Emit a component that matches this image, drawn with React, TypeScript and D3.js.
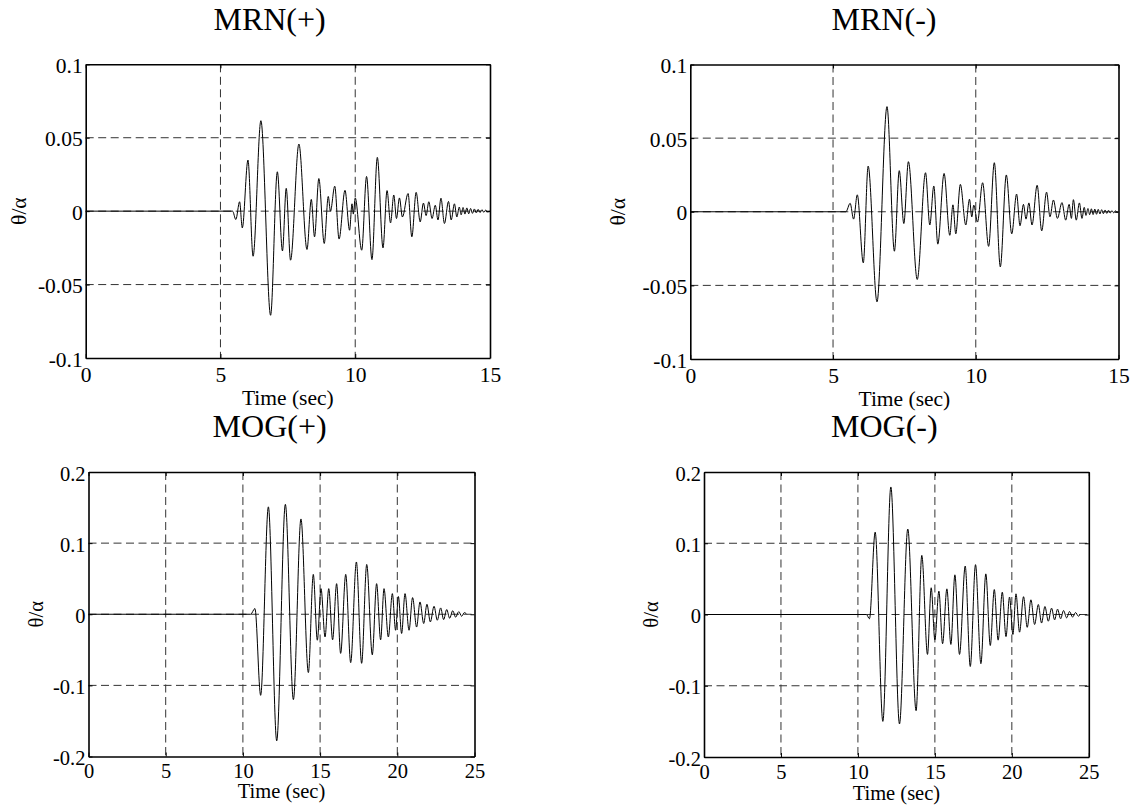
import React, { useRef, useEffect } from "react";
import * as d3 from "d3";

// axis ticks and their labels
const mrnXTicks = [0, 5, 10, 15];
const mogXTicks = [0, 5, 10, 15, 20, 25];
const mrnYTicks = [-0.1, -0.05, 0, 0.05, 0.1];
const mrnYLabels = ["-0.1", "-0.05", "0", "0.05", "0.1"];
const mogYTicks = [-0.2, -0.1, 0, 0.1, 0.2];
const mogYLabels = ["-0.2", "-0.1", "0", "0.1", "0.2"];

// [time (sec), theta/alpha] turning points
const mrnPlus = [
  [0, 0], [5.45, 0], [5.57, -0.0057], [5.71, 0.0064], [5.81, -0.0114], [6.02, 0.0348],
  [6.21, -0.0307], [6.5, 0.0616], [6.86, -0.0709], [7.11, 0.0268], [7.3, -0.0271],
  [7.44, 0.0155], [7.6, -0.0334], [7.91, 0.0457], [8.21, -0.0261], [8.37, 0.008],
  [8.49, -0.0175], [8.65, 0.0222], [8.85, -0.022], [9.0, 0.01], [9.08, 0.0],
  [9.24, 0.017], [9.4, -0.019], [9.62, 0.0142], [9.79, -0.013], [9.88, 0.005],
  [9.93, -0.002], [10.0, 0.009], [10.24, -0.0266], [10.42, 0.0236], [10.62, -0.033],
  [10.82, 0.0366], [11.03, -0.025], [11.18, 0.014], [11.31, -0.008], [11.43, 0.011],
  [11.53, -0.005], [11.64, 0.009], [11.75, -0.004], [11.96, 0.012], [12.1, -0.0175],
  [12.26, 0.0128], [12.41, -0.0073], [12.53, 0.0055], [12.63, -0.003], [12.73, 0.0064],
  [12.85, -0.005], [12.97, 0.004], [13.07, -0.006], [13.18, 0.0088], [13.31, -0.0084],
  [13.46, 0.0066], [13.56, -0.006], [13.68, 0.005], [13.77, -0.004], [13.86, 0.0028],
  [13.93, -0.0025], [14.0, 0.0025], [14.07, -0.002], [14.14, 0.0022], [14.21, -0.0018],
  [14.28, 0.0018], [14.35, -0.0015], [14.42, 0.0015], [14.49, -0.0012], [14.56, 0.0012],
  [14.63, -0.001], [14.7, 0.001], [14.77, -0.0008], [14.84, 0.0007], [14.91, -0.0005],
  [15.0, 0],
];

const mrnMinus = [
  [0, 0], [5.45, 0], [5.6, 0.0057], [5.72, -0.005], [5.85, 0.0115], [6.06, -0.0347],
  [6.23, 0.031], [6.54, -0.0612], [6.89, 0.0714], [7.15, -0.0268], [7.32, 0.0279],
  [7.48, -0.008], [7.64, 0.034], [7.95, -0.046], [8.24, 0.0265], [8.39, -0.009],
  [8.53, 0.0175], [8.67, -0.022], [8.89, 0.026], [9.09, -0.016], [9.2, 0.0047],
  [9.3, -0.015], [9.46, 0.0186], [9.65, -0.009], [9.78, 0.0085], [9.86, -0.0035],
  [9.93, 0.0045], [10.06, -0.007], [10.24, 0.0197], [10.45, -0.0235], [10.65, 0.0333],
  [10.86, -0.0374], [11.07, 0.025], [11.26, -0.015], [11.43, 0.012], [11.55, -0.0095],
  [11.67, 0.005], [11.76, -0.005], [11.86, 0.006], [11.97, -0.009], [12.15, 0.018],
  [12.31, -0.013], [12.48, 0.0133], [12.6, -0.0034], [12.72, 0.008], [12.86, -0.0045],
  [13.02, 0.0062], [13.15, -0.0057], [13.27, 0.005], [13.35, -0.0045], [13.42, 0.0082],
  [13.52, -0.0057], [13.63, 0.006], [13.72, -0.0045], [13.8, 0.003], [13.86, -0.0025],
  [13.93, 0.0022], [13.99, -0.002], [14.05, 0.002], [14.11, -0.0019], [14.17, 0.0018],
  [14.23, -0.0017], [14.29, 0.0016], [14.35, -0.0015], [14.41, 0.0014], [14.47, -0.0013],
  [14.53, 0.0012], [14.59, -0.0011], [14.65, 0.001], [14.71, -0.0009], [14.77, 0.0008],
  [14.83, -0.0007], [14.89, 0.0006], [14.95, -0.0004], [15.0, 0],
];

const mogPlus = [
  [0, 0], [10.5, 0], [10.78, 0.008], [11.15, -0.114], [11.65, 0.151], [12.19, -0.178],
  [12.75, 0.1545], [13.27, -0.12], [13.76, 0.134], [14.24, -0.082], [14.56, 0.056],
  [14.82, -0.0365], [15.06, 0.036], [15.32, -0.032], [15.56, 0.036], [15.81, -0.036],
  [16.07, 0.043], [16.33, -0.055], [16.66, 0.056], [16.98, -0.068], [17.35, 0.0735],
  [17.69, -0.069], [18.02, 0.07], [18.38, -0.057], [18.66, 0.043], [18.92, -0.036],
  [19.14, 0.036], [19.42, -0.032], [19.68, 0.029], [19.89, -0.0225], [20.07, 0.025],
  [20.28, -0.027], [20.5, 0.029], [20.76, -0.0225], [20.99, 0.0234], [21.25, -0.018],
  [21.47, 0.0173], [21.71, -0.013], [21.92, 0.014], [22.14, -0.0108], [22.38, 0.0112],
  [22.59, -0.0084], [22.81, 0.0089], [23.0, -0.0075], [23.2, 0.0066], [23.39, -0.0056],
  [23.59, 0.005], [23.78, -0.0042], [23.98, 0.0037], [24.17, -0.0028], [24.34, 0.0023],
  [24.5, 0],
];

const mogMinus = [
  [0, 0], [10.55, 0], [10.75, -0.006], [11.12, 0.1156], [11.62, -0.15], [12.14, 0.179],
  [12.7, -0.1536], [13.24, 0.12], [13.78, -0.135], [14.15, 0.083], [14.52, -0.056],
  [14.76, 0.0375], [15.0, -0.0356], [15.26, 0.0328], [15.5, -0.041], [15.78, 0.036],
  [16.04, -0.042], [16.3, 0.0557], [16.6, -0.056], [16.97, 0.068], [17.3, -0.073],
  [17.64, 0.07], [17.99, -0.069], [18.31, 0.057], [18.6, -0.0435], [18.86, 0.035],
  [19.11, -0.036], [19.38, 0.0314], [19.62, -0.031], [19.85, 0.0245], [20.07, -0.028],
  [20.27, 0.029], [20.5, -0.0248], [20.76, 0.025], [21.0, -0.018], [21.24, 0.0206],
  [21.48, -0.014], [21.72, 0.014], [21.93, -0.012], [22.15, 0.0112], [22.37, -0.0094],
  [22.58, 0.0089], [22.78, -0.0075], [22.97, 0.0075], [23.17, -0.006], [23.36, 0.0056],
  [23.56, -0.0047], [23.75, 0.0042], [23.95, -0.0037], [24.14, 0.0028], [24.32, -0.0023],
  [24.45, 0],
];

const panels = [
  { title: "MRN(+)", data: mrnPlus, xTicks: mrnXTicks, yTicks: mrnYTicks, yLabels: mrnYLabels,
    box: [85.7, 64.3, 490, 358], titleX: 269.6, titleY: 29.5, yLabX: 26, xLabY: 405, xTickY: 23.5, fs: 21.5 },
  { title: "MRN(-)", data: mrnMinus, xTicks: mrnXTicks, yTicks: mrnYTicks, yLabels: mrnYLabels,
    box: [690.3, 64.5, 1118.5, 359], titleX: 884, titleY: 29.5, yLabX: 625, xLabY: 406, xTickY: 23.5, fs: 21.5 },
  { title: "MOG(+)", data: mogPlus, xTicks: mogXTicks, yTicks: mogYTicks, yLabels: mogYLabels,
    box: [88.5, 472, 474.5, 756.5], titleX: 269.6, titleY: 437.3, yLabX: 42.5, xLabY: 798, xTickY: 21.5, fs: 20.5 },
  { title: "MOG(-)", data: mogMinus, xTicks: mogXTicks, yTicks: mogYTicks, yLabels: mogYLabels,
    box: [704, 472, 1088.8, 757], titleX: 884.3, titleY: 437.3, yLabX: 658, xLabY: 799.5, xTickY: 21.5, fs: 20.5 },
];

const font = "'Liberation Serif', 'Times New Roman', serif";

const App = () => {
  const svgRef = useRef(null);

  useEffect(() => {
    const svg = d3.select(svgRef.current);
    svg.selectAll("*").remove();

    panels.forEach((p, i) => {
      const [l, t, r, b] = p.box;
      const xMax = p.xTicks[p.xTicks.length - 1];
      const yMax = p.yTicks[p.yTicks.length - 1];
      const x = d3.scaleLinear().domain([0, xMax]).range([l, r]);
      const y = d3.scaleLinear().domain([-yMax, yMax]).range([b, t]);
      const g = svg.append("g");

      g.append("clipPath")
        .attr("id", `clip${i}`)
        .append("rect")
        .attr("x", l).attr("y", t).attr("width", r - l).attr("height", b - t);

      // dashed grid
      g.append("g")
        .selectAll("line")
        .data(p.xTicks.slice(1, -1))
        .join("line")
        .attr("x1", (d) => x(d)).attr("x2", (d) => x(d))
        .attr("y1", t).attr("y2", b)
        .attr("stroke", "#333").attr("stroke-width", 1)
        .attr("stroke-dasharray", "8,4.5");
      g.append("g")
        .selectAll("line")
        .data(p.yTicks.slice(1, -1))
        .join("line")
        .attr("x1", l).attr("x2", r)
        .attr("y1", (d) => y(d)).attr("y2", (d) => y(d))
        .attr("stroke", "#333").attr("stroke-width", 1)
        .attr("stroke-dasharray", "8,4.5");

      const line = d3
        .line()
        .x((d) => x(d[0]))
        .y((d) => y(d[1]))
        .curve(d3.curveMonotoneX);

      g.append("path")
        .datum(p.data)
        .attr("clip-path", `url(#clip${i})`)
        .attr("fill", "none")
        .attr("stroke", "#000")
        .attr("stroke-width", 1)
        .attr("d", line);

      const style = (a) => {
        a.attr("font-family", font).attr("font-size", p.fs);
        a.select(".domain").attr("stroke-width", 1.6);
        a.selectAll(".tick line").attr("stroke-width", 1);
      };

      g.append("g")
        .attr("transform", `translate(0,${b})`)
        .call(d3.axisBottom(x).tickValues(p.xTicks).tickSize(-4).tickSizeOuter(0).tickFormat(d3.format("d")))
        .call(style)
        .call((a) => a.selectAll("text").attr("dy", null).attr("y", p.xTickY));

      g.append("g")
        .attr("transform", `translate(0,${t})`)
        .call(d3.axisTop(x).tickValues(p.xTicks).tickSize(-4).tickSizeOuter(0).tickFormat(() => ""))
        .call(style);

      g.append("g")
        .attr("transform", `translate(${l},0)`)
        .call(
          d3.axisLeft(y).tickValues(p.yTicks).tickSize(-4).tickPadding(3).tickSizeOuter(0)
            .tickFormat((d, k) => p.yLabels[k])
        )
        .call(style)
        .call((a) => a.selectAll("text").attr("dy", null).attr("y", 8));

      g.append("g")
        .attr("transform", `translate(${r},0)`)
        .call(d3.axisRight(y).tickValues(p.yTicks).tickSize(-4).tickSizeOuter(0).tickFormat(() => ""))
        .call(style);

      g.append("text")
        .attr("x", p.titleX).attr("y", p.titleY)
        .attr("text-anchor", "middle")
        .attr("font-family", font).attr("font-size", 32)
        .text(p.title);

      g.append("text")
        .attr("x", (l + r) / 2).attr("y", p.xLabY)
        .attr("text-anchor", "middle")
        .attr("font-family", font).attr("font-size", p.fs)
        .text("Time (sec)");

      g.append("text")
        .attr("transform", `translate(${p.yLabX},${(t + b) / 2}) rotate(-90)`)
        .attr("text-anchor", "middle")
        .attr("font-family", font).attr("font-size", p.fs)
        .text("θ/α");
    });
  }, []);

  return (
    <svg
      ref={svgRef}
      width={1134}
      height={805}
      style={{ position: "absolute", left: 0, top: 0, background: "#fff" }}
    ></svg>
  );
};

export default App;
